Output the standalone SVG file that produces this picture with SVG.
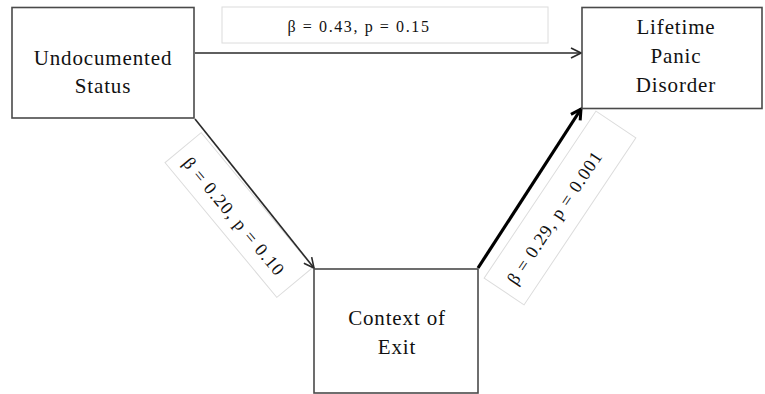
<svg xmlns="http://www.w3.org/2000/svg" width="765" height="394" viewBox="0 0 765 394">
  <style>
    .node rect { fill: #ffffff; stroke: #4a4a4a; stroke-width: 1.6; }
    .node text { font-family: "Liberation Serif", "Times New Roman", serif; font-size: 21px; fill: #111; text-anchor: middle; letter-spacing: 0.85px; }
    .lbl rect { fill: #ffffff; stroke: #dcdcdc; stroke-width: 1; }
    .lbl text { font-family: "Liberation Serif", "Times New Roman", serif; fill: #111; text-anchor: middle; }
    .edge { fill: none; stroke: #2a2a2a; stroke-width: 1.6; }
    .edge.strong { stroke: #000; stroke-width: 3.2; }
  </style>
  <defs>
    <marker id="chev" viewBox="0 0 12 12" refX="11" refY="6" markerWidth="12" markerHeight="12" markerUnits="userSpaceOnUse" orient="auto">
      <path d="M1,1 L11,6 L1,11" fill="none" stroke="#2a2a2a" stroke-width="1.6"/>
    </marker>
    <marker id="chevBold" viewBox="0 0 14 14" refX="12" refY="7" markerWidth="14" markerHeight="14" markerUnits="userSpaceOnUse" orient="auto">
      <path d="M2,1.5 L12,7 L2,12.5" fill="none" stroke="#000" stroke-width="3"/>
    </marker>
  </defs>

  <rect width="765" height="394" fill="#ffffff"/>

  <!-- path coefficient labels -->
  <g id="labels">
    <g class="lbl" id="label-direct">
      <rect x="222" y="7" width="326" height="36"/>
      <text x="359" y="32" font-size="16" letter-spacing="1.6">β = 0.43, p = 0.15</text>
    </g>
    <g class="lbl" id="label-a" transform="translate(239,215) rotate(50.3)">
      <rect x="-87.5" y="-23.5" width="175" height="47"/>
      <text x="-2" y="11" font-size="18" letter-spacing="1.1">β = 0.20, p = 0.10</text>
    </g>
    <g class="lbl" id="label-b" transform="translate(560,208) rotate(-56.2)">
      <rect x="-100.5" y="-24" width="201" height="48"/>
      <text x="-11" y="7" font-size="18" letter-spacing="1">β = 0.29, p = 0.001</text>
    </g>
  </g>

  <!-- connectors -->
  <g id="connectors">
    <line class="edge" x1="195" y1="53" x2="581" y2="53" marker-end="url(#chev)"/>
    <line class="edge" x1="195" y1="119" x2="314" y2="268" marker-end="url(#chev)"/>
    <line class="edge strong" x1="478" y1="268" x2="581" y2="109" marker-end="url(#chevBold)"/>
  </g>

  <!-- nodes -->
  <g class="node" id="undocumented-status">
    <rect x="12" y="7.5" width="182" height="110.5"/>
    <text x="103" y="65">Undocumented</text>
    <text x="103" y="93">Status</text>
  </g>
  <g class="node" id="lifetime-panic-disorder">
    <rect x="582" y="7.5" width="180" height="101"/>
    <text x="676" y="34">Lifetime</text>
    <text x="676" y="63">Panic</text>
    <text x="676" y="92">Disorder</text>
  </g>
  <g class="node" id="context-of-exit">
    <rect x="314" y="269" width="164" height="124"/>
    <text x="397" y="325">Context of</text>
    <text x="397" y="354">Exit</text>
  </g>
</svg>
